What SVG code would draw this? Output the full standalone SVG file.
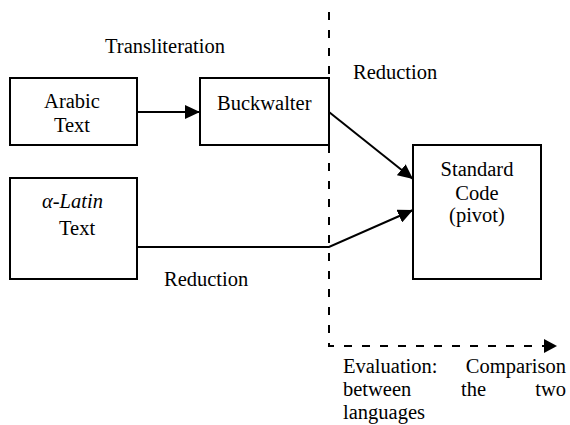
<svg xmlns="http://www.w3.org/2000/svg" width="570" height="425" viewBox="0 0 570 425" font-family="'Liberation Serif', 'Times New Roman', Tinos, 'DejaVu Serif', serif">
<style>
text{font-family:'Liberation Serif','Times New Roman',Tinos,'DejaVu Serif',serif;font-size:20.5px;fill:#000}
.box{fill:#fff;stroke:#000;stroke-width:2}
.ln{fill:none;stroke:#000;stroke-width:2}
.dash{fill:none;stroke:#000;stroke-width:2;stroke-dasharray:8 10}
.mid{text-anchor:middle}
</style>
<defs>
<marker id="ah" markerUnits="userSpaceOnUse" markerWidth="16" markerHeight="14" refX="15" refY="7" orient="auto">
<path d="M0,0 L15,7 L0,14 z" fill="#000"/>
</marker>
</defs>
<g id="labels">
<text x="105" y="53">Transliteration</text>
<text x="353" y="79">Reduction</text>
<text x="164" y="286">Reduction</text>
</g>
<g id="arabic">
<rect class="box" x="10" y="78" width="127" height="67"/>
<text class="mid" x="72" y="108">Arabic</text>
<text class="mid" x="72" y="132">Text</text>
</g>
<g id="buckwalter">
<rect class="box" x="200" y="78" width="129" height="67"/>
<text x="217" y="110">Buckwalter</text>
</g>
<g id="alatin">
<rect class="box" x="10" y="178" width="127" height="101"/>
<text x="42" y="208" font-style="italic">α-Latin</text>
<text x="59" y="235">Text</text>
</g>
<g id="standard">
<rect class="box" x="413" y="145" width="128" height="134"/>
<text class="mid" x="477" y="176">Standard</text>
<text class="mid" x="477" y="200">Code</text>
<text class="mid" x="477" y="222">(pivot)</text>
</g>
<g id="connectors">
<path class="dash" d="M329,12 V78"/>
<path class="dash" d="M329,145 V346 H546"/>
<path d="M544,339 L557,346 L544,353 z" fill="#000"/>
<path class="ln" d="M137,112 H200" marker-end="url(#ah)"/>
<path class="ln" d="M329,112 L413,179" marker-end="url(#ah)"/>
<path class="ln" d="M137,247 H329 L413,210" marker-end="url(#ah)"/>
</g>
<g id="evaluation">
<text x="343" y="373">Evaluation:</text>
<text x="566" y="373" text-anchor="end">Comparison</text>
<text x="343" y="396">between</text>
<text x="461" y="396">the</text>
<text x="566" y="396" text-anchor="end">two</text>
<text x="343" y="419">languages</text>
</g>
</svg>
